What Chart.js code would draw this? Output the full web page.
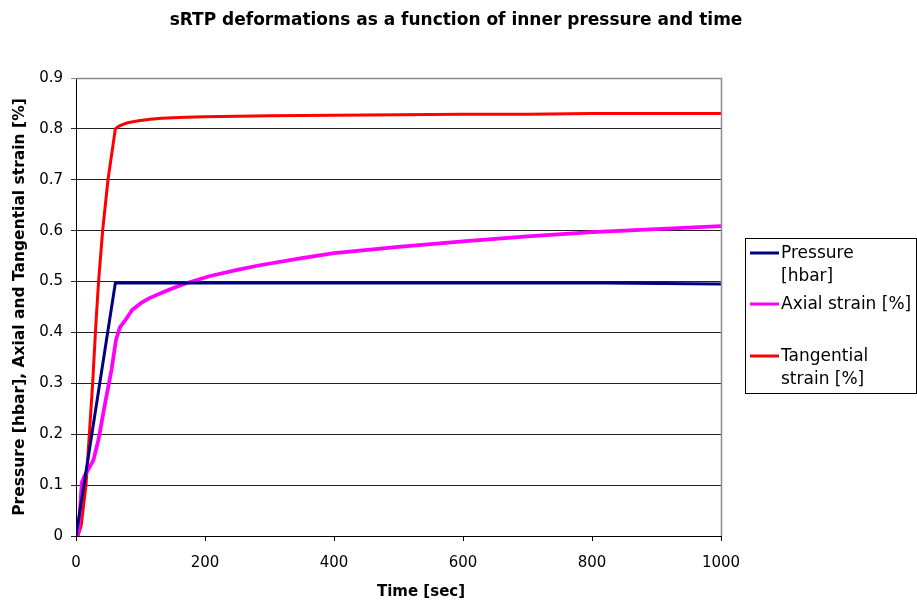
<!DOCTYPE html>
<html>
<head>
<meta charset="utf-8">
<script src="https://cdn.jsdelivr.net/npm/chart.js@4"></script>
<style>
  html, body { margin: 0; padding: 0; background: #fff; }
  #wrap { position: relative; width: 917px; height: 601px; }
</style>
</head>
<body>
<div id="wrap"><canvas id="deformChart" width="917" height="601"></canvas></div>
<script>
// data
const pressureTime = [0, 61, 820, 1000];
const pressureVals = [0, 0.497, 0.497, 0.495];

const axialTime = [0, 4, 9, 14, 20, 27, 35, 45, 55, 62, 68, 77, 87, 100, 113, 133, 150, 172, 208, 250, 285, 350, 400, 500, 600, 700, 800, 900, 1000];
const axialVals = [0, 0.01, 0.105, 0.12, 0.133, 0.149, 0.19, 0.26, 0.326, 0.385, 0.41, 0.425, 0.444, 0.457, 0.467, 0.478, 0.487, 0.497, 0.511, 0.523, 0.532, 0.546, 0.556, 0.568, 0.579, 0.589, 0.597, 0.603, 0.609];

const tangTime = [0, 3, 8, 15.5, 20.7, 25.8, 31, 35, 41.3, 49.6, 61, 66, 71, 80, 97, 115, 133, 170, 200, 300, 400, 500, 600, 700, 800, 900, 1000];
const tangVals = [0, 0, 0.02, 0.1, 0.2, 0.3, 0.42, 0.5, 0.6, 0.7, 0.8, 0.805, 0.808, 0.812, 0.816, 0.819, 0.821, 0.823, 0.824, 0.826, 0.827, 0.828, 0.829, 0.829, 0.83, 0.83, 0.83];

const xTicks = [0, 200, 400, 600, 800, 1000];
const legendLines = [["Pressure", "[hbar]"], ["Axial strain [%]"], ["Tangential", "strain [%]"]];

const chartTitle = "sRTP deformations as a function of inner pressure and time";
const xTitle = "Time [sec]";
const yTitle = "Pressure [hbar], Axial and Tangential strain [%]";

const toPoints = (xs, ys) => xs.map((x, i) => ({ x, y: ys[i] }));

Chart.defaults.font.family = "'DejaVu Sans', sans-serif";
Chart.defaults.color = "#000";

// titles, frame and legend drawn like the excel original
const decor = {
  id: "decor",
  afterDatasetsDraw(chart) {
    const { ctx, chartArea: a } = chart;
    ctx.save();
    // gray frame top/right
    ctx.strokeStyle = "#8c8c8c";
    ctx.lineWidth = 1.5;
    ctx.beginPath();
    ctx.moveTo(a.left, a.top + 0.5);
    ctx.lineTo(a.right + 0.5, a.top + 0.5);
    ctx.lineTo(a.right + 0.5, a.bottom);
    ctx.stroke();

    ctx.fillStyle = "#000";
    ctx.textAlign = "center";
    ctx.textBaseline = "middle";
    ctx.font = "bold 17px 'DejaVu Sans'";
    ctx.fillText(chartTitle, 456, 21);
    ctx.font = "bold 15px 'DejaVu Sans'";
    ctx.fillText(xTitle, 421, 592);
    ctx.font = "bold 15.5px 'DejaVu Sans'";
    ctx.save();
    ctx.translate(20, (a.top + a.bottom) / 2);
    ctx.rotate(-Math.PI / 2);
    ctx.fillText(yTitle, 0, 0);
    ctx.restore();

    // legend box
    ctx.strokeStyle = "#000";
    ctx.lineWidth = 1;
    ctx.strokeRect(745.5, 238.5, 171, 155);
    const rowY = [254, 305, 357];
    ctx.font = "17px 'DejaVu Sans'";
    ctx.textAlign = "left";
    chart.data.datasets.forEach((ds, i) => {
      ctx.strokeStyle = ds.borderColor;
      ctx.lineWidth = 3;
      ctx.beginPath();
      ctx.moveTo(750, rowY[i] - 1);
      ctx.lineTo(779, rowY[i] - 1);
      ctx.stroke();
      legendLines[i].forEach((t, j) => ctx.fillText(t, 781, rowY[i] + j * 23));
    });
    ctx.restore();
  }
};

new Chart(document.getElementById("deformChart"), {
  type: "line",
  data: {
    datasets: [
      { label: "Pressure [hbar]", data: toPoints(pressureTime, pressureVals), borderColor: "#000080", borderWidth: 3 },
      { label: "Axial strain [%]", data: toPoints(axialTime, axialVals), borderColor: "#ff00ff", borderWidth: 3.75 },
      { label: "Tangential strain [%]", data: toPoints(tangTime, tangVals), borderColor: "#ff0000", borderWidth: 3 },
    ],
  },
  options: {
    responsive: false,
    animation: false,
    events: [],
    elements: { point: { radius: 0 }, line: { tension: 0, borderCapStyle: "round", borderJoinStyle: "round" } },
    layout: { padding: { top: 78, right: 196, left: 0, bottom: 0 } },
    plugins: { legend: { display: false }, title: { display: false }, tooltip: { enabled: false } },
    scales: {
      x: {
        type: "linear",
        min: 0,
        max: 1000,
        afterBuildTicks: (s) => { s.ticks = xTicks.map((v) => ({ value: v })); },
        afterFit: (s) => { s.height = 65; },
        grid: { drawOnChartArea: false, drawTicks: true, tickLength: 5, color: "#000" },
        border: { color: "#000", width: 1 },
        ticks: { font: { size: 15 }, padding: 13, maxRotation: 0, callback: (v) => String(v) },
      },
      y: {
        min: 0,
        max: 0.9,
        afterFit: (s) => { s.width = 76; },
        grid: {
          tickLength: 5,
          color: (c) => (c.index === 9 ? "#8c8c8c" : "#222"),
          lineWidth: 1,
        },
        border: { color: "#000", width: 1 },
        ticks: {
          stepSize: 0.1,
          padding: 8,
          font: { size: 15 },
          callback: (v) => (v === 0 ? "0" : v.toFixed(1)),
        },
      },
    },
  },
  plugins: [decor],
});
</script>
</body>
</html>
